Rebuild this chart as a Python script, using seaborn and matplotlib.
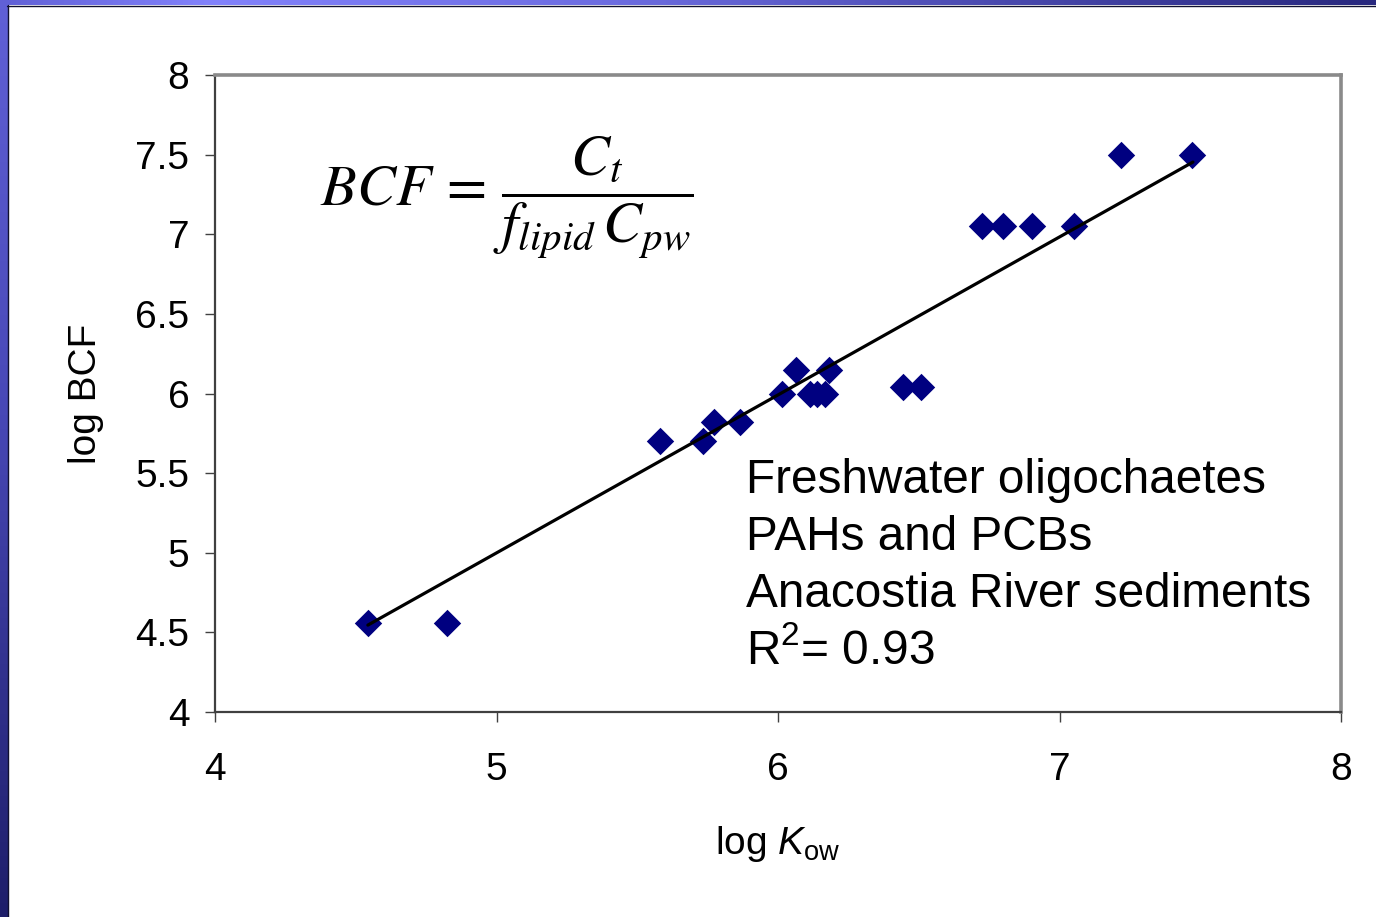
import numpy as np
import pandas as pd
import matplotlib
matplotlib.use("Agg")
import matplotlib.pyplot as plt
import seaborn as sns
from matplotlib.colors import LinearSegmentedColormap
from matplotlib.lines import Line2D

# ---------------- data ----------------
log_kow = [4.543, 4.824, 5.581, 5.734, 5.773, 5.865, 6.014, 6.064, 6.114, 6.139,
           6.167, 6.181, 6.444, 6.508, 6.725, 6.799, 6.902, 7.051, 7.218, 7.471]
log_bcf = [4.56, 4.56, 5.70, 5.70, 5.82, 5.82, 6.00, 6.15, 6.00, 6.00,
           6.00, 6.15, 6.04, 6.04, 7.05, 7.05, 7.05, 7.05, 7.50, 7.50]

# trend line as drawn in the reference
fit_x = [4.543, 7.474]
fit_slope = 0.992
fit_intercept = 0.039

x_ticks = [4, 5, 6, 7, 8]
x_tick_labels = ["4", "5", "6", "7", "8"]
y_ticks = [4, 4.5, 5, 5.5, 6, 6.5, 7, 7.5, 8]
y_tick_labels = ["4", "4.5", "5", "5.5", "6", "6.5", "7", "7.5", "8"]

annotation_lines = ["Freshwater oligochaetes", "PAHs and PCBs",
                    "Anacostia River sediments", r"R$^{2}$= 0.93"]
equation = r"$BCF\,=\,\dfrac{C_t}{f_{lipid}\,C_{pw}}$"
x_label = r"log $K_{\mathrm{ow}}$"
y_label = "log BCF"

# ---------------- style ----------------
sns.set_theme(style="white")
plt.rcParams["font.family"] = ["Liberation Sans", "DejaVu Sans"]
plt.rcParams["mathtext.fontset"] = "custom"
plt.rcParams["mathtext.rm"] = "Liberation Sans"
plt.rcParams["mathtext.it"] = "Liberation Sans:italic"
plt.rcParams["mathtext.bf"] = "Liberation Sans:bold"

W, H = 1376, 917
fig = plt.figure(figsize=(W / 100, H / 100), dpi=100)
fig.patch.set_facecolor("white")

# ---------------- slide border (gradient) ----------------
top_cmap = LinearSegmentedColormap.from_list(
    "top", [(0.0, "#6060d6"), (0.15, "#8282fc"), (0.45, "#6c6ce0"), (1.0, "#28287e")])
left_cmap = LinearSegmentedColormap.from_list(
    "left", [(0.0, "#6060d6"), (0.45, "#4848b6"), (1.0, "#1e1e6a")])
ax_top = fig.add_axes([0, 1 - 5 / H, 1, 5 / H])
ax_top.imshow(np.linspace(0, 1, 256)[None, :], aspect="auto", cmap=top_cmap)
ax_top.set_axis_off()
ax_left = fig.add_axes([0, 0, 7 / W, 1 - 5 / H])
ax_left.imshow(np.linspace(0, 1, 256)[:, None], aspect="auto", cmap=left_cmap)
ax_left.set_axis_off()
fig.add_artist(Line2D([7.5 / W, 7.5 / W], [0, 1 - 5 / H], transform=fig.transFigure,
                      color="#101030", lw=1.0))
fig.add_artist(Line2D([7 / W, 1], [1 - 5.5 / H, 1 - 5.5 / H], transform=fig.transFigure,
                      color="#101030", lw=1.0))

# ---------------- main axes ----------------
ax = fig.add_axes([215 / W, 1 - 712 / H, (1341 - 215) / W, (712 - 75) / H])

df = pd.DataFrame({"log_kow": log_kow, "log_bcf": log_bcf})
sns.scatterplot(data=df, x="log_kow", y="log_bcf", marker="D", s=195,
                color="#000080", edgecolor="#000080", linewidth=0, ax=ax,
                zorder=2, legend=False)
fit_df = pd.DataFrame({"x": fit_x,
                       "y": [fit_slope * v + fit_intercept for v in fit_x]})
sns.lineplot(data=fit_df, x="x", y="y", color="black", lw=2.3, ax=ax, zorder=3)

ax.set_xlim(4, 8)
ax.set_ylim(4, 8)
ax.set_xticks(x_ticks)
ax.set_xticklabels(x_tick_labels)
ax.set_yticks(y_ticks)
ax.set_yticklabels(y_tick_labels)
ax.tick_params(axis="both", which="major", bottom=True, left=True,
               direction="out", length=7.5, width=1.0, color="#404040",
               labelsize=28, labelcolor="black")
ax.tick_params(axis="x", pad=21)
ax.tick_params(axis="y", pad=11)

for side in ["left", "bottom"]:
    ax.spines[side].set_color("#404040")
    ax.spines[side].set_linewidth(1.6)
for side in ["top", "right"]:
    ax.spines[side].set_color("#8a8a8a")
    ax.spines[side].set_linewidth(2.6)
    ax.spines[side].set_visible(True)

ax.set_xlabel(x_label, fontsize=28, color="black")
ax.set_ylabel(y_label, fontsize=28, color="black")
ax.xaxis.set_label_coords(0.5, (712 - 824) / 637)
ax.yaxis.set_label_coords((104 - 215) / 1126, 0.5)

# ---------------- annotations ----------------
def px2data(px, py):
    return 4 + (px - 215) / 281.5, 4 + (712 - py) / 159.25

baselines = [493, 550, 607, 664]
for line, by in zip(annotation_lines, baselines):
    tx, ty = px2data(746, by)
    ax.text(tx, ty, line, fontsize=34.4, ha="left", va="baseline", color="black")

ex, ey = px2data(320, 198)
ax.text(ex, ey, equation, fontsize=42, ha="left", va="center", color="black",
        math_fontfamily="stix")

fig.savefig("out.png", dpi=100, facecolor="white")
